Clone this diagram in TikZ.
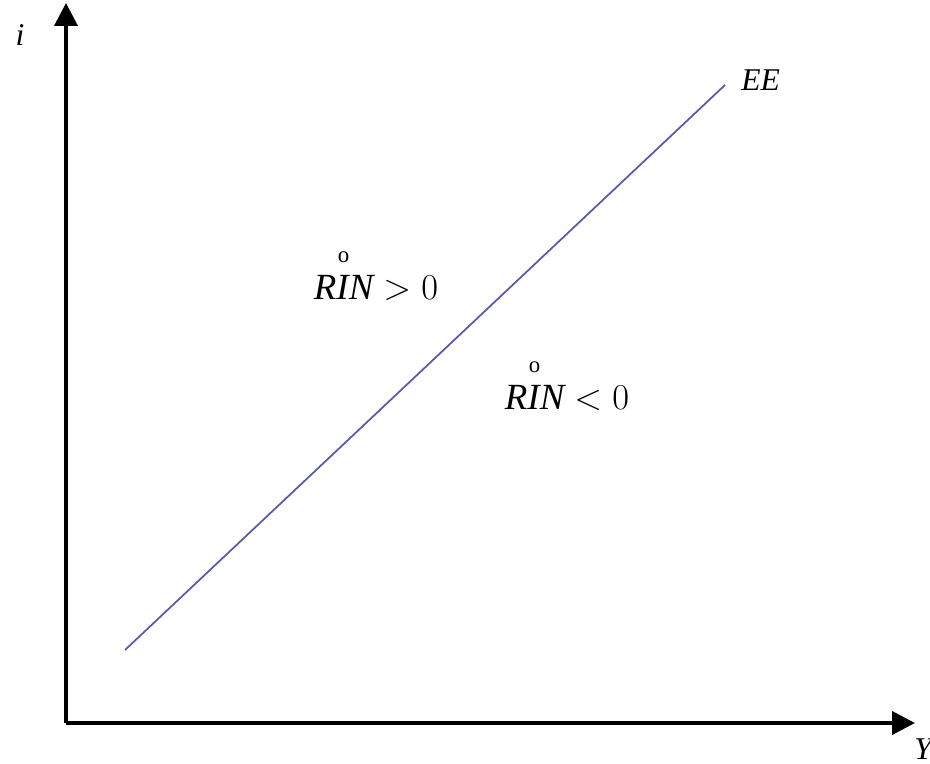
\documentclass[tikz,border=0pt]{standalone}
\usepackage{amsmath}
\usepackage{fontspec}
\setmainfont{Liberation Serif}
\usepackage{tikz}
\usetikzlibrary{arrows.meta,positioning}
\definecolor{eeBlue}{HTML}{5A5AAA}
\tikzset{
  axis/.style={line width=2.2pt,black,-{Triangle[length=0.46cm,width=0.46cm]}},
  eeline/.style={line width=1pt,eeBlue},
  lbl/.style={font=\fontsize{18}{22}\selectfont\itshape,inner sep=0pt},
  region/.style={font=\fontsize{21}{24}\selectfont,inner sep=0pt}
}
\newcommand{\rinDot}{\overset{\raisebox{3pt}{\fontsize{13}{13}\selectfont o}}{\textit{RIN}}}

\begin{document}
\begin{tikzpicture}[x=1cm,y=1cm,>=Latex]
  \useasboundingbox (0,0) rectangle (18.6,15.26);
  % axes
  \coordinate (origin) at (1.32,0.80);
  \coordinate (ytip) at (1.32,15.20);
  \coordinate (xtip) at (18.30,0.80);
  \draw[axis] (origin) -- (ytip);
  \draw[axis] (origin) -- (xtip);
  \node[lbl] (ilabel) at (0.40,14.56) {i};
  \node[lbl,anchor=west] (ylabel) at (18.28,0.28) {Y};

  % equilibrium line
  \coordinate (eeStart) at (2.50,2.26);
  \coordinate (eeEnd) at (14.50,13.56);
  \draw[eeline] (eeStart) -- (eeEnd);
  \node[lbl,anchor=west] (eelabel) at (14.82,13.66) {EE};

  % regions
  \node[region] (above) at (7.52,9.78) {$\rinDot > 0$};
  \node[region] (below) at (11.34,7.58) {$\rinDot < 0$};
\end{tikzpicture}
\end{document}
